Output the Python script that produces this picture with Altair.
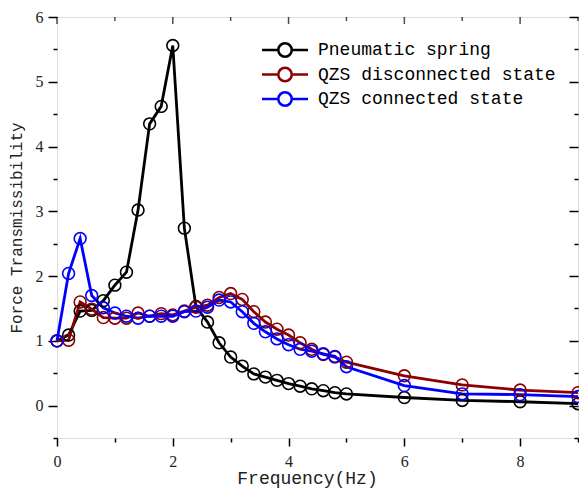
import altair as alt
import pandas as pd

freq = [0, 0.2, 0.4, 0.6, 0.8, 1.0, 1.2, 1.4, 1.6, 1.8, 2.0, 2.2, 2.4, 2.6, 2.8,
        3.0, 3.2, 3.4, 3.6, 3.8, 4.0, 4.2, 4.4, 4.6, 4.8, 5.0, 6, 7, 8, 9]

pneumatic = [1.0, 1.09, 1.46, 1.47, 1.62, 1.86, 2.06, 3.02, 4.35, 4.62, 5.56, 2.74,
             1.53, 1.29, 0.97, 0.75, 0.61, 0.49, 0.44, 0.39, 0.34, 0.30, 0.26, 0.23,
             0.20, 0.18, 0.125, 0.08, 0.06, 0.03]

qzs_disconnected = [1.0, 1.01, 1.6, 1.49, 1.36, 1.35, 1.35, 1.43, 1.38, 1.42, 1.4,
                    1.46, 1.52, 1.55, 1.67, 1.73, 1.64, 1.45, 1.29, 1.18, 1.09, 0.97,
                    0.87, 0.79, 0.75, 0.67, 0.46, 0.32, 0.24, 0.2]

qzs_connected = [1.0, 2.04, 2.58, 1.7, 1.51, 1.43, 1.38, 1.35, 1.38, 1.38, 1.38, 1.45,
                 1.46, 1.52, 1.63, 1.6, 1.45, 1.27, 1.14, 1.03, 0.94, 0.87, 0.84, 0.8,
                 0.76, 0.6, 0.31, 0.18, 0.17, 0.14]

series_names = ["Pneumatic spring", "QZS disconnected state", "QZS connected state"]
series_colors = ["#000000", "#8B0000", "#0000FF"]

x_ticks = [0, 1, 2, 3, 4, 5, 6, 7, 8, 9]
y_ticks = [-0.5, 0, 0.5, 1, 1.5, 2, 2.5, 3, 3.5, 4, 4.5, 5, 5.5, 6]

rows = []
for name, vals in zip(series_names, [pneumatic, qzs_disconnected, qzs_connected]):
    for f, v in zip(freq, vals):
        rows.append({"freq": f, "value": v, "series": name})
df = pd.DataFrame(rows)

W, H = 521, 421
MONO = "Liberation Mono"
SERIF = "Liberation Serif"

x_minor = {"condition": {"test": "datum.value % 2 != 0", "value": 4}, "value": 8}
y_minor = {"condition": {"test": "datum.value % 1 != 0", "value": 4}, "value": 9}
y_mirror_dash = {"condition": {"test": "datum.value % 1 != 0", "value": [0, 5, 4]},
                 "value": [9, 0]}

x_scale = alt.Scale(domain=[0, 9], nice=False, zero=False)
y_scale = alt.Scale(domain=[-0.5, 6], nice=False, zero=False)

legend_path = ("M-1,0 L1.33,0 M3.25,0 L5.57,0 "
               "M1.33,0 A0.96,0.96 0 1,1 3.25,0 A0.96,0.96 0 1,1 1.33,0")

color = alt.Color(
    "series:N",
    scale=alt.Scale(domain=series_names, range=series_colors),
    legend=alt.Legend(
        title=None, orient="none", legendX=203, legendY=24,
        symbolType=legend_path, symbolSize=196, symbolStrokeWidth=2.5,
        symbolFillColor="transparent",
        labelFont=MONO, labelFontSize=18, labelColor="#000000", labelLimit=400,
        labelOffset=40, rowPadding=0.5, padding=0,
    ),
)

x_main = alt.X(
    "freq:Q", scale=x_scale,
    axis=alt.Axis(
        orient="bottom",
        title="Frequency(Hz)", values=x_ticks,
        labelExpr="datum.value % 2 == 0 ? format(datum.value, 'd') : ''",
        grid=False, domain=False, tickColor="#000000", tickWidth=1.5,
        tickSize=x_minor, labelFont=SERIF, labelFontSize=16,
        labelColor="#222222", labelPadding=7, labelFlush=False,
        titleFont=MONO, titleFontSize=18, titleFontWeight="normal",
        titleColor="#222222", titlePadding=0, titleX=250,
    ),
)
y_main = alt.Y(
    "value:Q", scale=y_scale,
    axis=alt.Axis(
        orient="left",
        title="Force Transmissibility", values=y_ticks,
        labelExpr="datum.value % 1 == 0 ? format(datum.value, 'd') : ''",
        grid=False, domain=False, tickColor="#000000", tickWidth=1.5,
        tickSize=y_minor, labelFont=SERIF, labelFontSize=16,
        labelColor="#222222", labelPadding=5, labelFlush=False,
        titleFont=MONO, titleFontSize=16, titleFontWeight="normal",
        titleColor="#222222", titlePadding=11,
    ),
)

base = alt.Chart(df)

lines = base.mark_line(strokeWidth=2.8).encode(
    x=x_main, y=y_main, color=color, detail="series:N",
    order=alt.Order("freq:Q"),
)

points = base.mark_point(filled=False, size=140, strokeWidth=1.6, opacity=1).encode(
    x=alt.X("freq:Q", scale=x_scale, axis=None),
    y=alt.Y("value:Q", scale=y_scale, axis=None),
    color=color,
)

# inward ticks along the top frame edge (placed at the top of the y scale)
top_major = pd.DataFrame({"t": [v for v in x_ticks if v % 2 == 0], "top": 6.0})
top_minor = pd.DataFrame({"t": [v for v in x_ticks if v % 2 != 0], "top": 6.0})
top_major_ticks = alt.Chart(top_major).mark_tick(
    color="#000000", thickness=1.5, size=7, yOffset=3.5, orient="vertical"
).encode(
    x=alt.X("t:Q", scale=x_scale, axis=None),
    y=alt.Y("top:Q", scale=y_scale, axis=None),
)
top_minor_ticks = alt.Chart(top_minor).mark_tick(
    color="#000000", thickness=1.5, size=4, yOffset=2, orient="vertical"
).encode(
    x=alt.X("t:Q", scale=x_scale, axis=None),
    y=alt.Y("top:Q", scale=y_scale, axis=None),
)

# inward ticks along the right frame edge
tick_df = pd.DataFrame({"freq": [0.0], "value": [0.0]})
mirror_y = alt.Chart(tick_df).mark_point(opacity=0).encode(
    x=alt.X("freq:Q", scale=x_scale, axis=None),
    y=alt.Y("value:Q", scale=y_scale,
            axis=alt.Axis(orient="right", offset=-9, values=y_ticks, labels=False,
                          title="", grid=False, domain=False, tickColor="#000000",
                          tickWidth=1.5, tickSize=9, tickDash=y_mirror_dash)),
)

chart = alt.layer(lines, points, top_major_ticks, top_minor_ticks, mirror_y).resolve_axis(
    x="independent", y="independent"
).properties(
    width=W, height=H,
    padding={"left": 57, "top": 17, "right": 1, "bottom": 51},
    autosize=alt.AutoSizeParams(type="none"),
).configure_view(
    stroke="#000000", strokeWidth=1.5,
).configure(background="white")

chart.save("out.html", embed_options={"renderer": "svg", "actions": False})
